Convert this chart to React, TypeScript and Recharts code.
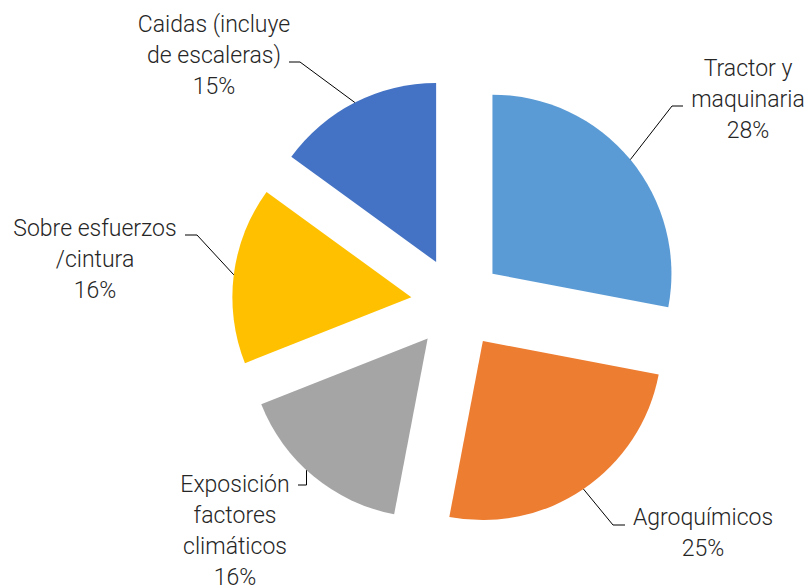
import React from "react";
import { PieChart, Pie, Cell } from "recharts";

const CATEGORIES = [
  "Tractor y maquinaria",
  "Agroquímicos",
  "Exposición factores climáticos",
  "Sobre esfuerzos /cintura",
  "Caidas (incluye de escaleras)",
];
const VALUES = [28, 25, 16, 16, 15];
const LABEL_LINES = [
  ["Tractor y", "maquinaria"],
  ["Agroquímicos"],
  ["Exposición", "factores", "climáticos"],
  ["Sobre esfuerzos", "/cintura"],
  ["Caidas (incluye", "de escaleras)"],
];
const COLORS = ["#5B9BD5", "#ED7D31", "#A5A5A5", "#FFC000", "#4472C4"];

const data = CATEGORIES.map((name, i) => ({ name, value: VALUES[i] }));
const TOTAL = VALUES.reduce((a, b) => a + b, 0);

const W = 812;
const H = 588;
const CX = 457;
const CY = 303;
const R = 179;
const EXPLODE = 46;
const START = 90;
const END = -270;
const RAD = Math.PI / 180;
const FONT = "Roboto, 'Noto Sans', sans-serif";
const LINE_H = 31;

// text layout: center x, first baseline y, elbow point, end of the leader, leader start angle shift
const LABEL_LAYOUT = [
  { x: 748, y: 76, elbow: [672, 106], end: [683, 106], shift: 0 },
  { x: 703, y: 525, elbow: [613, 525], end: [625, 525], shift: 0 },
  { x: 235, y: 492, elbow: [306.5, 485], end: [298, 485], shift: -3 },
  { x: 95, y: 236, elbow: [197, 235], end: [185, 235], shift: 0 },
  { x: 214, y: 32, elbow: [300, 62], end: [289, 62], shift: 0 },
];

function midAngleOf(i: number) {
  const before = VALUES.slice(0, i).reduce((a, b) => a + b, 0);
  return START + ((END - START) * (before + VALUES[i] / 2)) / TOTAL;
}

function makeLabel(slice: number, pcx: number, pcy: number) {
  return (props: any) => {
    if (props.index !== slice) return null;
    const lay = LABEL_LAYOUT[slice];
    const cx = typeof props.cx === "number" ? props.cx : pcx;
    const cy = typeof props.cy === "number" ? props.cy : pcy;
    const mid0 = typeof props.midAngle === "number" ? props.midAngle : midAngleOf(slice);
    const mid = mid0 + lay.shift;
    const r = typeof props.outerRadius === "number" ? props.outerRadius : R;
    const sx = cx + r * Math.cos(-mid * RAD);
    const sy = cy + r * Math.sin(-mid * RAD);
    const lines = [...LABEL_LINES[slice], `${Math.round((VALUES[slice] / TOTAL) * 100)}%`];
    return (
      <g>
        <polyline
          points={`${sx},${sy} ${lay.elbow[0]},${lay.elbow[1]} ${lay.end[0]},${lay.end[1]}`}
          fill="none"
          stroke="#000"
          strokeWidth={1}
        />
        <text
          x={lay.x}
          y={lay.y}
          textAnchor="middle"
          fontFamily={FONT}
          fontWeight={300}
          fontSize={23}
          fill="#262626"
        >
          {lines.map((t, k) => (
            <tspan key={k} x={lay.x} dy={k === 0 ? 0 : LINE_H}>
              {t}
            </tspan>
          ))}
        </text>
      </g>
    );
  };
}

export default function App() {
  return (
    <div style={{ position: "absolute", left: 0, top: 0, width: W, height: H, background: "#fff" }}>
      <PieChart width={W} height={H} margin={{ top: 0, right: 0, bottom: 0, left: 0 }}>
        {VALUES.map((_, i) => {
          const mid = midAngleOf(i);
          const pcx = CX + EXPLODE * Math.cos(mid * RAD);
          const pcy = CY - EXPLODE * Math.sin(mid * RAD);
          return (
            <Pie
              key={i}
              data={data}
              dataKey="value"
              nameKey="name"
              cx={pcx}
              cy={pcy}
              outerRadius={R}
              innerRadius={0}
              startAngle={START}
              endAngle={END}
              isAnimationActive={false}
              labelLine={false}
              label={makeLabel(i, pcx, pcy)}
              stroke="none"
            >
              {data.map((_, j) => (
                <Cell key={j} fill={j === i ? COLORS[j] : "none"} stroke="none" />
              ))}
            </Pie>
          );
        })}
      </PieChart>
    </div>
  );
}
